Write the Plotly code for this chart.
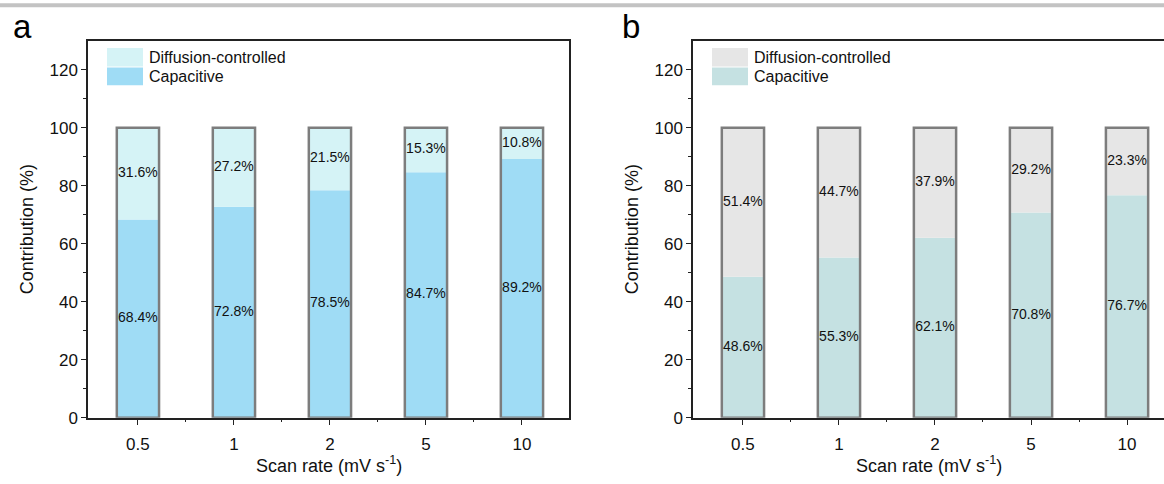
import plotly.graph_objects as go

# ---- data ----
scan_rates = ["0.5", "1", "2", "5", "10"]
cap_a = [68.4, 72.8, 78.5, 84.7, 89.2]
diff_a = [31.6, 27.2, 21.5, 15.3, 10.8]
cap_b = [48.6, 55.3, 62.1, 70.8, 76.7]
diff_b = [51.4, 44.7, 37.9, 29.2, 23.3]
y_ticks = [0, 20, 40, 60, 80, 100, 120]

W, H = 1164, 484
FONT = "Liberation Sans, Arial, sans-serif"
OUTLINE = "#7d7d7d"
AXIS = "#222222"


def px(x):
    return x / W


def py(y):
    return 1 - y / H


xs = list(range(len(scan_rates)))
panels = [
    dict(cap=cap_a, diff=diff_a, cap_color="#9fdcf5", diff_color="#d5f3f6",
         xa="x", ya="y", dom=[px(88), px(569)], rng=[-0.52, 4.49],
         letter="a", letter_x=11, leg_x=107, title_cx=328.5),
    dict(cap=cap_b, diff=diff_b, cap_color="#c5e1e2", diff_color="#e6e6e6",
         xa="x2", ya="y2", dom=[px(693), 1.0], rng=[-0.52, 4.385],
         letter="b", letter_x=620, leg_x=712, title_cx=928.5),
]

fig = go.Figure()
shapes = []
annotations = []
bar_w = 0.44

for p in panels:
    total = [c + d for c, d in zip(p["cap"], p["diff"])]
    fig.add_trace(go.Bar(x=xs, y=p["cap"], base=[0] * len(xs), width=bar_w,
                         marker=dict(color=p["cap_color"], line=dict(width=0)),
                         xaxis=p["xa"], yaxis=p["ya"], showlegend=False, hoverinfo="skip"))
    fig.add_trace(go.Bar(x=xs, y=p["diff"], base=p["cap"], width=bar_w,
                         marker=dict(color=p["diff_color"], line=dict(width=0)),
                         xaxis=p["xa"], yaxis=p["ya"], showlegend=False, hoverinfo="skip"))
    # outline around the whole stacked column
    fig.add_trace(go.Bar(x=xs, y=total, base=[0] * len(xs), width=bar_w,
                         marker=dict(color="rgba(0,0,0,0)", line=dict(color=OUTLINE, width=2.5)),
                         xaxis=p["xa"], yaxis=p["ya"], showlegend=False, hoverinfo="skip"))
    # percentage labels in the middle of each segment
    fig.add_trace(go.Scatter(x=xs, y=[c / 2 for c in p["cap"]], mode="text",
                             text=[f"{v:.1f}%" for v in p["cap"]],
                             textfont=dict(family=FONT, size=14, color="#111111"),
                             xaxis=p["xa"], yaxis=p["ya"], showlegend=False, hoverinfo="skip"))
    fig.add_trace(go.Scatter(x=xs, y=[c + d / 2 for c, d in zip(p["cap"], p["diff"])], mode="text",
                             text=[f"{v:.1f}%" for v in p["diff"]],
                             textfont=dict(family=FONT, size=14, color="#111111"),
                             xaxis=p["xa"], yaxis=p["ya"], showlegend=False, hoverinfo="skip"))

    # legend swatches and labels
    lx = p["leg_x"]
    shapes.append(dict(type="rect", xref="paper", yref="paper", x0=px(lx), x1=px(lx + 36),
                       y0=py(68), y1=py(49), fillcolor=p["diff_color"], line=dict(width=0), layer="above"))
    shapes.append(dict(type="rect", xref="paper", yref="paper", x0=px(lx), x1=px(lx + 36),
                       y0=py(87), y1=py(69), fillcolor=p["cap_color"], line=dict(width=0), layer="above"))
    annotations.append(dict(text="Diffusion-controlled", xref="paper", yref="paper", x=px(lx + 40),
                            y=py(58.5), xanchor="left", yanchor="middle", showarrow=False,
                            font=dict(family=FONT, size=16, color="#111111")))
    annotations.append(dict(text="Capacitive", xref="paper", yref="paper", x=px(lx + 40),
                            y=py(78.5), xanchor="left", yanchor="middle", showarrow=False,
                            font=dict(family=FONT, size=16, color="#111111")))
    # panel letter
    annotations.append(dict(text=p["letter"], xref="paper", yref="paper", x=px(p["letter_x"]),
                            y=py(27), xanchor="left", yanchor="middle", showarrow=False,
                            font=dict(family=FONT, size=33, color="#000000")))
    # axis titles
    annotations.append(dict(text="Scan rate (mV s<sup>-1</sup>)", xref="paper", yref="paper",
                            x=px(p["title_cx"]), y=py(474), xanchor="center", yanchor="middle",
                            showarrow=False, font=dict(family=FONT, size=18, color="#111111")))
    annotations.append(dict(text="Contribution (%)", xref="paper", yref="paper",
                            x=px(p["dom"][0] * W - 61), y=py(234), xanchor="center", yanchor="middle",
                            textangle=-90, showarrow=False,
                            font=dict(family=FONT, size=18, color="#111111")))

# thin grey rule across the top of the figure
shapes.append(dict(type="rect", xref="paper", yref="paper", x0=0, x1=1, y0=py(7.3), y1=py(3.3),
                   fillcolor="#c3c3c3", line=dict(width=0)))

y_dom = [py(426.5), py(41.7)]
xaxis_common = dict(tickmode="array", tickvals=xs, ticktext=scan_rates, showline=True,
                    linecolor=AXIS, linewidth=1.5, ticks="outside", ticklen=6, tickwidth=1.3,
                    tickcolor=AXIS, showgrid=False, zeroline=False, ticklabelstandoff=4,
                    tickfont=dict(family=FONT, size=17, color="#111111"),
                    minor=dict(tickvals=[0.5, 1.5, 2.5, 3.5], ticks="outside", ticklen=3,
                               tickwidth=1.3, tickcolor=AXIS, showgrid=False))
yaxis_common = dict(range=[0, 130], tickmode="array", tickvals=y_ticks, showline=True,
                    linecolor=AXIS, linewidth=1.5, ticks="outside", ticklen=5, tickwidth=1.3,
                    tickcolor=AXIS, showgrid=False, zeroline=False,
                    tickfont=dict(family=FONT, size=17, color="#111111"),
                    minor=dict(tickvals=[10, 30, 50, 70, 90, 110], ticks="outside", ticklen=3,
                               tickwidth=1.3, tickcolor=AXIS, showgrid=False))

p1, p2 = panels
fig.update_layout(
    width=W, height=H, margin=dict(l=0, r=0, t=0, b=0),
    paper_bgcolor="white", plot_bgcolor="white", barmode="overlay",
    shapes=shapes, annotations=annotations,
    xaxis=dict(xaxis_common, domain=p1["dom"], range=p1["rng"], anchor="y", mirror=True),
    yaxis=dict(yaxis_common, domain=y_dom, anchor="x", mirror=True),
    xaxis2=dict(xaxis_common, domain=p2["dom"], range=p2["rng"], anchor="y2", mirror=True),
    yaxis2=dict(yaxis_common, domain=y_dom, anchor="x2", mirror=False),
)

fig.write_html("out.html")
